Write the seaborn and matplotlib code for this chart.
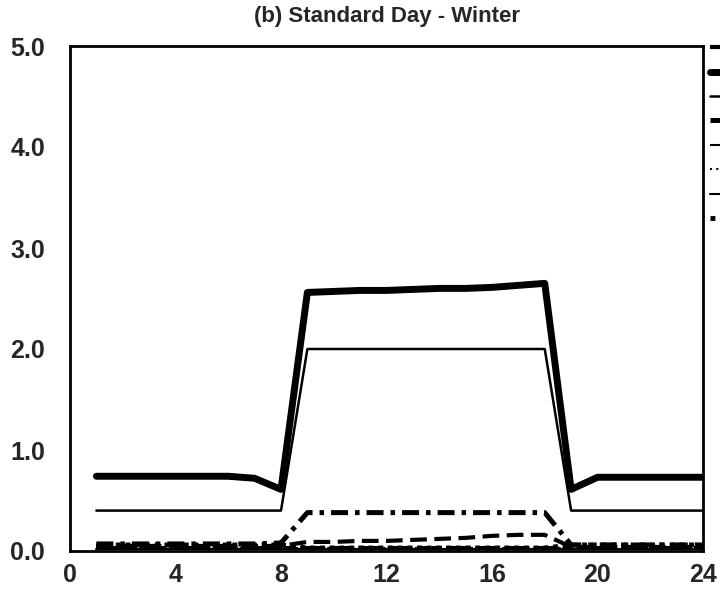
import numpy as np
import pandas as pd
import seaborn as sns
import matplotlib.pyplot as plt

# hours of the day
hours = list(range(1, 25))

# load profiles
total = [0.74, 0.74, 0.74, 0.74, 0.74, 0.74, 0.72, 0.61,
         2.56, 2.57, 2.58, 2.58, 2.59, 2.60, 2.60, 2.61, 2.63, 2.65,
         0.61, 0.73, 0.73, 0.73, 0.73, 0.73]
base = [0.40] * 8 + [2.00] * 10 + [0.40] * 6
dashdot = [0.07] * 7 + [0.08] + [0.38] * 10 + [0.06] * 6
dashed = [0.05] * 8 + [0.09, 0.09, 0.10, 0.10, 0.11, 0.12, 0.13, 0.15, 0.16, 0.16] + [0.04] * 6
thick_dot = [0.06] * 8 + [0.03] * 10 + [0.06] * 6
thin_dash = [0.04] * 24
dotted = [0.03] * 24
thin_other = [0.02] * 24

x_ticks = [0, 4, 8, 12, 16, 20, 24]
y_ticks = [0.0, 1.0, 2.0, 3.0, 4.0, 5.0]

sns.set_style("white")
plt.rcParams['font.family'] = ['Liberation Sans', 'DejaVu Sans']

fig = plt.figure(figsize=(7.2, 5.93), dpi=100)
ax = fig.add_axes([70 / 720, 42 / 593, 633 / 720, 505 / 593])

series = [
    (dashed, dict(linewidth=3.0, linestyle=(0, (4.0, 1.8)))),
    (total, dict(linewidth=5.0, linestyle='-')),
    (base, dict(linewidth=1.8, linestyle='-')),
    (dashdot, dict(linewidth=3.6, linestyle=(0, (3.4, 1.4, 0.9, 1.4)))),
    (thin_dash, dict(linewidth=1.5, linestyle=(0, (5, 2)))),
    (dotted, dict(linewidth=1.5, linestyle=(0, (1, 2)))),
    (thin_other, dict(linewidth=1.5, linestyle='-')),
    (thick_dot, dict(linewidth=3.5, linestyle=(0, (1, 1)))),
]

handles = []
for vals, style in series:
    df = pd.DataFrame({'hour': hours, 'value': vals})
    sns.lineplot(data=df, x='hour', y='value', ax=ax, color='black', **style)
    handles.append(ax.get_lines()[-1])

ax.set_xlim(0, 24)
ax.set_ylim(0, 5)
ax.set_xticks(x_ticks)
ax.set_yticks(y_ticks)
ax.set_xticklabels([str(t) for t in x_ticks], fontsize=18, fontweight='bold')
ax.set_yticklabels([f"{t:.1f}" for t in y_ticks], fontsize=18, fontweight='bold')
ax.tick_params(direction='in', length=8, width=1.5, color='black')
ax.tick_params(axis='x', pad=9)
ax.tick_params(axis='y', pad=18)
ax.set_xlabel('')
ax.set_ylabel('')
for s in ax.spines.values():
    s.set_visible(True)
    s.set_color('black')
    s.set_linewidth(2)

ax.set_title('(b) Standard Day - Winter', fontsize=16, fontweight='bold', pad=17)

# legend, cut off by the right edge of the figure
ax.legend(handles, [''] * len(handles), loc='upper left', bbox_to_anchor=(1.011, 1.01),
          frameon=False, fontsize=10, labelspacing=0.75, borderpad=0,
          borderaxespad=0, handlelength=3)

fig.savefig('out.png', dpi=100)
